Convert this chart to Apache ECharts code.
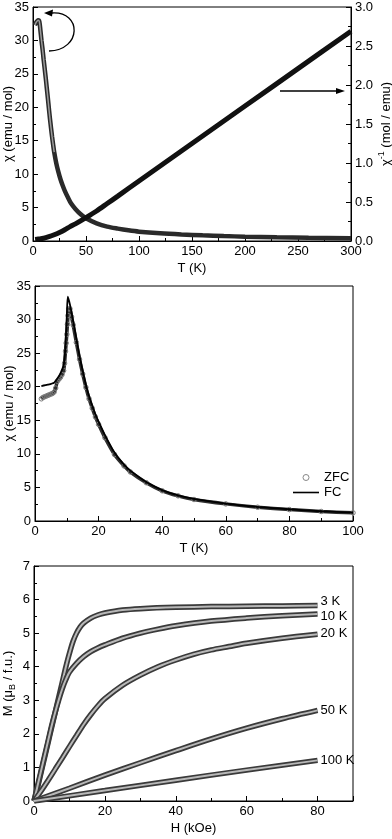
<!DOCTYPE html>
<html>
<head>
<meta charset="utf-8">
<script src="https://cdn.jsdelivr.net/npm/echarts@6/dist/echarts.min.js"></script>
<style>
  html, body { margin: 0; padding: 0; background: #fff; }
  #chart { width: 392px; height: 839px; }
</style>
</head>
<body>
<div id="chart"></div>
<script>
// panel 1: chi and 1/chi vs T
const tChi = [1.8, 3, 4, 5, 6, 7, 8, 9, 10, 11, 12, 13, 14, 15, 16, 17, 18, 19, 20, 22, 24, 26, 28, 30, 33, 36, 40, 45, 50, 60, 70, 80, 90, 100, 120, 140, 160, 180, 200, 230, 260, 300];
const chi = [32.3, 32.7, 32.9, 33.0, 32.8, 31.5, 30, 28.7, 27.2, 25.8, 24.4, 22.9, 21.4, 19.8, 18.3, 16.9, 15.6, 14.4, 13.3, 11.6, 10.3, 9.2, 8.3, 7.5, 6.5, 5.6, 4.8, 4.0, 3.4, 2.65, 2.15, 1.85, 1.6, 1.4, 1.15, 0.98, 0.85, 0.74, 0.65, 0.56, 0.49, 0.42];
const tInv = [2, 5, 10, 15, 20, 25, 30, 35, 40, 50, 60, 70, 80, 100, 150, 200, 250, 300];
const chiInv = [0.02, 0.025, 0.035, 0.055, 0.08, 0.11, 0.145, 0.185, 0.22, 0.30, 0.385, 0.48, 0.575, 0.77, 1.25, 1.73, 2.21, 2.69];

// panel 2: ZFC / FC
const tZfc = [2, 2.5, 3, 3.5, 4, 4.5, 5, 5.5, 6, 6.5, 7, 7.5, 8, 8.5, 9, 9.3, 9.6, 9.8, 10, 10.2, 10.4, 10.6, 11, 11.5, 12, 13, 14, 15, 16, 17, 18, 19, 20, 22, 25, 28, 30, 35, 40, 45, 50, 60, 70, 80, 90, 100];
const zfc = [18.2, 18.4, 18.5, 18.6, 18.7, 18.8, 18.9, 19.0, 19.2, 19.8, 20.8, 21.1, 21.4, 21.8, 22.4, 23.5, 25.3, 26.5, 27.8, 29.3, 30.6, 31.6, 31.6, 30.4, 29.2, 26.6, 24.1, 21.9, 19.9, 18.2, 16.8, 15.5, 14.4, 12.4, 9.9, 8.2, 7.3, 5.7, 4.5, 3.75, 3.2, 2.55, 2.05, 1.7, 1.42, 1.22];
const tFc = [2, 4, 6, 7, 8, 9, 9.5, 10, 10.3, 11, 12, 13, 14, 15, 16, 17, 18, 19, 20, 22, 25, 28, 30, 35, 40, 45, 50, 60, 70, 80, 90, 100];
const fc = [20.1, 20.3, 20.6, 21.2, 22.0, 23.2, 25.5, 30.5, 33.4, 32.2, 29.8, 27.2, 24.6, 22.4, 20.3, 18.6, 17.2, 15.9, 14.8, 12.8, 10.2, 8.4, 7.5, 5.8, 4.6, 3.8, 3.3, 2.6, 2.1, 1.75, 1.45, 1.25];

// panel 3: M(H) at several temperatures
const h3 = [0, 1, 2, 3, 4, 5, 6, 7, 8, 9, 10, 11, 12, 13, 14, 16, 18, 20, 25, 30, 40, 50, 60, 70, 80];
const m3 = [0, 0.4, 0.85, 1.3, 1.75, 2.2, 2.65, 3.1, 3.55, 4.0, 4.4, 4.75, 5.0, 5.18, 5.3, 5.45, 5.54, 5.6, 5.69, 5.73, 5.77, 5.79, 5.8, 5.81, 5.82];
const h10 = [0, 1, 2, 3, 4, 5, 6, 7, 8, 9, 10, 12, 14, 16, 18, 20, 25, 30, 35, 40, 50, 60, 70, 80];
const m10 = [0, 0.45, 0.9, 1.35, 1.8, 2.25, 2.65, 3.02, 3.35, 3.62, 3.84, 4.1, 4.3, 4.45, 4.56, 4.65, 4.85, 5.0, 5.12, 5.22, 5.36, 5.45, 5.52, 5.57];
const h20 = [0, 2, 4, 6, 8, 10, 12, 14, 16, 18, 20, 25, 30, 35, 40, 45, 50, 55, 60, 70, 80];
const m20 = [0, 0.3, 0.62, 0.95, 1.28, 1.62, 1.95, 2.28, 2.57, 2.83, 3.05, 3.45, 3.75, 4.0, 4.2, 4.37, 4.5, 4.6, 4.7, 4.85, 4.97];
const h50 = [0, 10, 20, 30, 40, 50, 60, 70, 80];
const m50 = [0, 0.38, 0.77, 1.14, 1.5, 1.85, 2.17, 2.45, 2.7];
const h100 = [0, 20, 40, 60, 80];
const m100 = [0, 0.31, 0.62, 0.92, 1.21];

const FONT = "'Liberation Sans', Arial, sans-serif";
const pairs = (xs, ys) => xs.map((x, i) => [x, ys[i]]);

function valAxis(extra) {
    return Object.assign({
        type: "value",
        axisLine: { show: true, onZero: false, lineStyle: { color: "#000", width: 1 } },
        axisTick: { show: true, inside: true, length: 5, lineStyle: { color: "#000" } },
        minorTick: { show: true, splitNumber: 2, length: 3, lineStyle: { color: "#000" } },
        splitLine: { show: false },
        axisLabel: { color: "#000", fontSize: 13, fontFamily: FONT, margin: 4 },
        nameLocation: "middle",
        nameMoveOverlap: false,
        nameTextStyle: { color: "#000", fontSize: 13, fontFamily: FONT },
    }, extra);
}

const rich = {
    a: { fontSize: 13, fontFamily: FONT, color: "#000", lineHeight: 18 },
    sup: { fontSize: 9, fontFamily: FONT, color: "#000", verticalAlign: "top", lineHeight: 18 },
    sub: { fontSize: 9, fontFamily: FONT, color: "#000", verticalAlign: "bottom", lineHeight: 18 },
};

// M(H) curve: dark outer stroke, light core
function mhSeries(name, hs, ms, labelOffset) {
    return [
        {
            name: name, type: "line", xAxisIndex: 2, yAxisIndex: 3,
            data: pairs(hs, ms), showSymbol: false, smooth: 0.3,
            lineStyle: { color: "#3a3a3a", width: 5.5 },
            endLabel: {
                show: true, formatter: name, color: "#000", fontSize: 13,
                fontFamily: FONT, distance: 3, offset: labelOffset,
            },
        },
        {
            name: name + " core", type: "line", xAxisIndex: 2, yAxisIndex: 3,
            data: pairs(hs, ms), showSymbol: false, smooth: 0.3, silent: true,
            lineStyle: { color: "#b8b8b8", width: 2 },
        },
    ];
}

const gridBase = { show: true, borderColor: "#000", borderWidth: 1, containLabel: false, outerBoundsMode: "none" };

const chart = echarts.init(document.getElementById("chart"));

chart.setOption({
    animation: false,
    backgroundColor: "#fff",
    grid: [
        Object.assign({ left: 33, top: 7, width: 318, height: 234 }, gridBase),
        Object.assign({ left: 35, top: 286, width: 318, height: 235 }, gridBase),
        Object.assign({ left: 34, top: 566, width: 319, height: 235 }, gridBase),
    ],
    xAxis: [
        valAxis({ gridIndex: 0, min: 0, max: 300, interval: 50, name: "T (K)", nameGap: 21 }),
        valAxis({ gridIndex: 1, min: 0, max: 100, interval: 20, name: "T (K)", nameGap: 21 }),
        valAxis({
            gridIndex: 2, min: 0, max: 90, interval: 20, name: "H (kOe)", nameGap: 21,
            axisLabel: { color: "#000", fontSize: 13, fontFamily: FONT, margin: 4, showMaxLabel: false,
                formatter: (v) => (v === 90 ? "" : v) },
        }),
    ],
    yAxis: [
        valAxis({ gridIndex: 0, min: 0, max: 35, interval: 5, name: "χ (emu / mol)", nameGap: 18 }),
        valAxis({
            gridIndex: 0, position: "right", min: 0, max: 3, interval: 0.5, nameGap: 26,
            name: "{a|χ}{sup|-1}{a| (mol / emu)}", nameRotate: 90,
            nameTextStyle: { rich: rich },
            axisLabel: { color: "#000", fontSize: 13, fontFamily: FONT, margin: 4, formatter: (v) => v.toFixed(1) },
        }),
        valAxis({ gridIndex: 1, min: 0, max: 35, interval: 5, name: "χ (emu / mol)", nameGap: 19 }),
        valAxis({
            gridIndex: 2, min: 0, max: 7, interval: 1, nameGap: 17,
            name: "{a|M (μ}{sub|B}{a| / f.u.)}", nameTextStyle: { rich: rich },
        }),
    ],
    legend: {
        orient: "vertical", left: 288, top: 466, itemWidth: 26, itemHeight: 6, itemGap: 2,
        textStyle: { color: "#000", fontSize: 13, fontFamily: FONT },
        data: [
            { name: "ZFC", icon: "circle", itemStyle: { color: "transparent", borderColor: "#888", borderWidth: 1 } },
            { name: "FC", icon: "path://M0,0 L26,0 L26,1.6 L0,1.6 Z", itemStyle: { color: "#000" } },
        ],
    },
    series: [
        {
            name: "chi", type: "line", xAxisIndex: 0, yAxisIndex: 0, data: pairs(tChi, chi),
            showSymbol: false, smooth: 0.3, lineStyle: { color: "#2a2a2a", width: 4.5 },
        },
        {
            name: "chi core", type: "line", xAxisIndex: 0, yAxisIndex: 0, data: pairs(tChi.slice(0, 19), chi.slice(0, 19)),
            showSymbol: false, smooth: 0.3, silent: true, lineStyle: { color: "#9a9a9a", width: 1.5 },
        },
        {
            name: "chi inv", type: "line", xAxisIndex: 0, yAxisIndex: 1, data: pairs(tInv, chiInv),
            showSymbol: false, smooth: 0.3, lineStyle: { color: "#111", width: 5 },
        },
        {
            name: "ZFC", type: "line", xAxisIndex: 1, yAxisIndex: 2, data: pairs(tZfc, zfc), z: 2,
            symbol: "circle", symbolSize: 4.5, showAllSymbol: true, smooth: 0.2,
            lineStyle: { color: "#2e2e2e", width: 3.5 },
            itemStyle: { color: "transparent", borderColor: "#7a7a7a", borderWidth: 1 },
        },
        {
            name: "FC", type: "line", xAxisIndex: 1, yAxisIndex: 2, data: pairs(tFc, fc), z: 4,
            showSymbol: false, symbol: "none", smooth: 0.2, lineStyle: { color: "#000", width: 1.8 },
            itemStyle: { color: "#000" },
        },
        ...mhSeries("3 K", h3, m3, [0, -4]),
        ...mhSeries("10 K", h10, m10, [0, 2]),
        ...mhSeries("20 K", h20, m20, [0, -1]),
        ...mhSeries("50 K", h50, m50, [0, 0]),
        ...mhSeries("100 K", h100, m100, [0, 0]),
    ],
    graphic: [
        // curved arrow pointing to the left axis
        {
            type: "bezierCurve",
            shape: { x1: 49, y1: 51, cpx1: 82, cpy1: 50, cpx2: 82, cpy2: 11, x2: 52, y2: 13 },
            style: { stroke: "#000", lineWidth: 1.3, fill: null },
        },
        { type: "polygon", shape: { points: [[44, 13], [53, 9.5], [52, 16.5]] }, style: { fill: "#000" } },
        // straight arrow pointing to the right axis
        { type: "line", shape: { x1: 280, y1: 91, x2: 338, y2: 91 }, style: { stroke: "#000", lineWidth: 1.3 } },
        { type: "polygon", shape: { points: [[345, 91], [336, 88], [336, 94]] }, style: { fill: "#000" } },
    ],
});
</script>
</body>
</html>
